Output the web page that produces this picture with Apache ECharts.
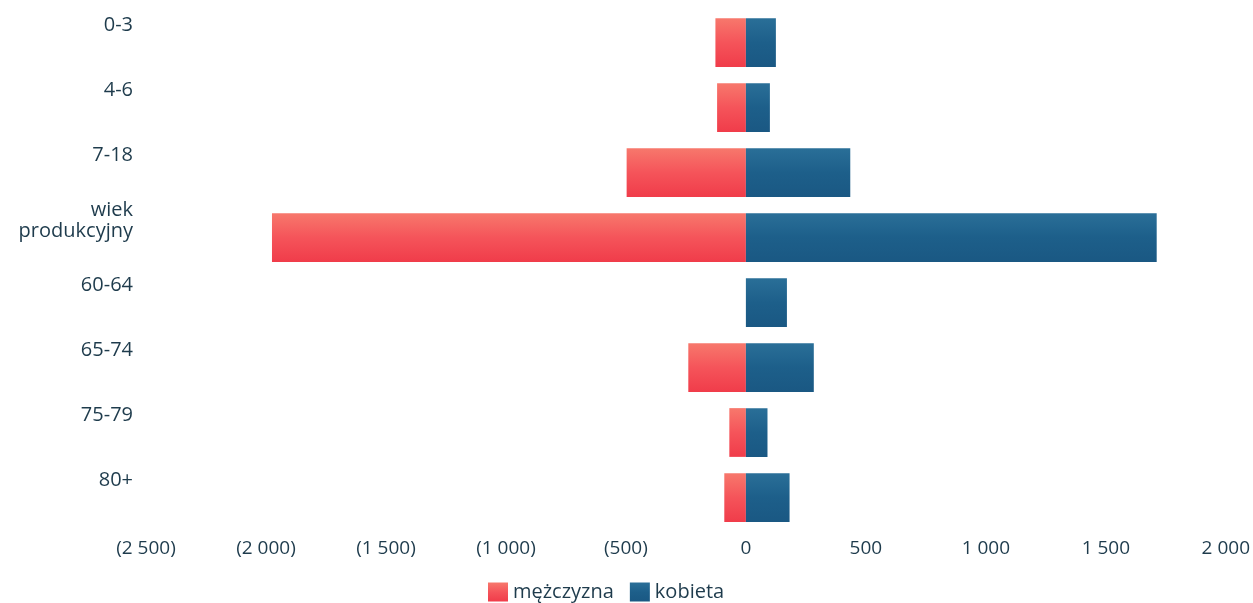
<!DOCTYPE html>
<html>
<head>
<meta charset="utf-8">
<script src="https://cdn.jsdelivr.net/npm/echarts@6/dist/echarts.min.js"></script>
<style>
html,body{margin:0;padding:0;background:#fff;}
#c{width:1253px;height:603px;}
</style>
</head>
<body>
<div id="c"></div>
<script>
var categories = ['0-3', '4-6', '7-18', 'wiek\nprodukcyjny', '60-64', '65-74', '75-79', '80+'];
var menValues = [127, 120, 497, 1975, 0, 240, 69, 90];
var womenValues = [125, 100, 435, 1712, 171, 283, 90, 182];
var seriesNames = ['mężczyzna', 'kobieta'];
var xMin = -2500, xMax = 2000, xStep = 500;

var textColor = '#1e3b4c';
function fmt(v) {
  var a = Math.abs(v);
  var s = String(a).replace(/\B(?=(\d{3})+(?!\d))/g, ' ');
  return v < 0 ? '(' + s + ')' : s;
}

var chart = echarts.init(document.getElementById('c'));
chart.setOption({
  backgroundColor: '#ffffff',
  animation: false,
  grid: { left: 146, right: 24, top: 10, bottom: 73, containLabel: false },
  legend: {
    top: 577,
    left: 483,
    itemWidth: 20,
    itemHeight: 19,
    itemGap: 16,
    icon: 'rect',
    textStyle: { color: textColor, fontSize: 20, fontFamily: 'Open Sans' },
    data: seriesNames
  },
  xAxis: {
    type: 'value',
    min: xMin,
    max: xMax,
    interval: xStep,
    axisLine: { show: false },
    axisTick: { show: false },
    splitLine: { show: false },
    axisLabel: {
      color: textColor,
      fontSize: 19,
      fontFamily: 'Open Sans',
      margin: 9,
      formatter: fmt
    }
  },
  yAxis: {
    type: 'category',
    inverse: true,
    data: categories,
    axisLine: { show: false },
    axisTick: { show: false },
    axisLabel: {
      color: textColor,
      fontSize: 20,
      fontFamily: 'Open Sans',
      align: 'right',
      margin: 13,
      lineHeight: 21,
      formatter: function (v) { return v + '\n{s| }'; },
      rich: { s: { lineHeight: 34, fontSize: 10 } }
    }
  },
  series: [
    {
      name: seriesNames[0],
      type: 'bar',
      stack: 'total',
      barCategoryGap: '25%',
      itemStyle: {
        color: new echarts.graphic.LinearGradient(0, 0, 0, 1, [
          { offset: 0, color: '#f7786c' },
          { offset: 0.5, color: '#f5545a' },
          { offset: 1, color: '#f03c4a' }
        ])
      },
      data: menValues.map(function (v) { return -v; })
    },
    {
      name: seriesNames[1],
      type: 'bar',
      stack: 'total',
      barCategoryGap: '25%',
      itemStyle: {
        color: new echarts.graphic.LinearGradient(0, 0, 0, 1, [
          { offset: 0, color: '#2a6f98' },
          { offset: 0.5, color: '#1d5f8a' },
          { offset: 1, color: '#1a5883' }
        ])
      },
      data: womenValues
    }
  ]
});
</script>
</body>
</html>
